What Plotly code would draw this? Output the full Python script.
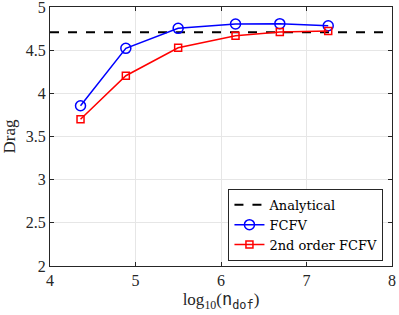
import plotly.graph_objects as go

x_fcfv = [4.357, 4.887, 5.499, 6.17, 6.688, 7.254]
drag_fcfv = [3.856, 4.521, 4.753, 4.803, 4.807, 4.783]
x_2nd = [4.357, 4.887, 5.499, 6.17, 6.688, 7.254]
drag_2nd = [3.70, 4.204, 4.528, 4.668, 4.71, 4.722]
analytical = 4.707
x_range = [4, 8]
y_range = [2, 5]
x_ticks = [4, 5, 6, 7, 8]
y_ticks = [2, 2.5, 3, 3.5, 4, 4.5, 5]
y_ticklabels = ["2", "2.5", "3", "3.5", "4", "4.5", "5"]

font_family = "Liberation Serif"

fig = go.Figure()
fig.add_trace(go.Scatter(
    x=x_range, y=[analytical, analytical], mode="lines", name="Analytical",
    line=dict(color="black", width=2, dash="dash")))
fig.add_trace(go.Scatter(
    x=x_fcfv, y=drag_fcfv, mode="lines+markers", name="FCFV",
    line=dict(color="#0000ff", width=1.5),
    marker=dict(symbol="circle-open", size=10, color="#0000ff", line=dict(width=1.5))))
fig.add_trace(go.Scatter(
    x=x_2nd, y=drag_2nd, mode="lines+markers", name="2nd order FCFV",
    line=dict(color="#ff0000", width=1.5),
    marker=dict(symbol="square-open", size=7, color="#ff0000", line=dict(width=1.5))))

axis_common = dict(
    showgrid=True, gridcolor="#e6e6e6", gridwidth=1,
    showline=True, linecolor="#262626", linewidth=1, mirror="ticks",
    ticks="inside", ticklen=4, tickcolor="#262626",
    zeroline=False, automargin=False, ticklabeloverflow="allow",
    tickfont=dict(family=font_family, size=16, color="#262626"),
)

fig.update_layout(
    width=399, height=315,
    margin=dict(l=50, r=7, t=7, b=49, autoexpand=False),
    paper_bgcolor="white", plot_bgcolor="white",
    font=dict(family=font_family, color="#262626"),
    xaxis=dict(range=x_range, tickvals=x_ticks, **axis_common,
               title=dict(text='log<sub>10</sub>(<span style="font-family:DejaVu Sans Mono">n<sub>dof</sub></span>)',
                          font=dict(family=font_family, size=17, color="#262626"), standoff=4)),
    yaxis=dict(range=y_range, tickvals=y_ticks, ticktext=y_ticklabels, **axis_common,
               title=dict(text="Drag", font=dict(family=font_family, size=17, color="#262626"), standoff=6)),
    legend=dict(x=0.975, y=0.02, xanchor="right", yanchor="bottom",
                bordercolor="#262626", borderwidth=1, bgcolor="white",
                font=dict(family="DejaVu Serif", size=13, color="black"),
                tracegroupgap=0, itemwidth=30),
    showlegend=True,
)

fig.write_html("out.html", config={"displayModeBar": False},
               post_script="document.body.style.margin='0';document.body.style.overflow='hidden';")
